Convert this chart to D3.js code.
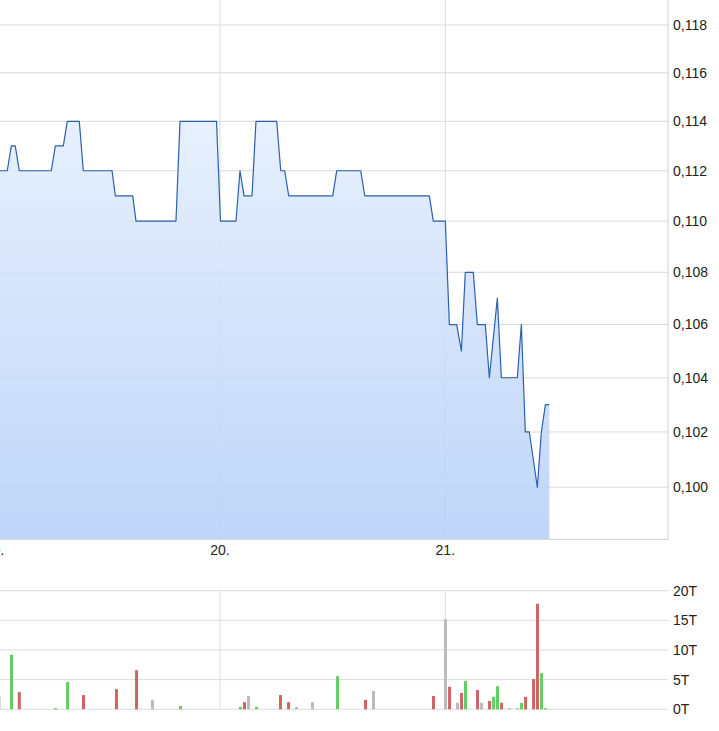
<!DOCTYPE html>
<html><head><meta charset="utf-8">
<script src="https://cdn.jsdelivr.net/npm/d3@7"></script>
<style>html,body{margin:0;padding:0;background:#fff;overflow:hidden}</style>
</head><body>
<svg id="c" width="719" height="731"></svg>
<script>
// ---- data (time in hours since day 19, 00:00) ----
const dayTicks = [0, 24, 48];
const dayLabels = ["19.", "20.", "21."];
const priceTicks = [0.100, 0.102, 0.104, 0.106, 0.108, 0.110, 0.112, 0.114, 0.116, 0.118];
const volTicks = [0, 5, 10, 15, 20];

const priceHours = [0, 1.34, 1.77, 2.19, 2.62, 6.03, 6.46, 7.31, 7.73, 9.01, 9.44, 12.50, 12.85, 14.70, 15.05,
  19.31, 19.74, 23.63, 24.05, 25.70, 26.13, 26.56, 27.41, 27.83, 30.04, 30.47, 30.89, 31.32, 36.01, 36.43,
  38.99, 39.42, 46.30, 46.72, 48.00, 48.43, 49.21, 49.71, 50.13, 50.98, 51.41, 52.26, 52.69, 53.54, 53.97,
  55.67, 56.10, 56.52, 56.95, 57.80, 58.23, 58.66, 59.08];
const priceValues = [0.112, 0.112, 0.113, 0.113, 0.112, 0.112, 0.113, 0.113, 0.114, 0.114, 0.112, 0.112, 0.111, 0.111, 0.110,
  0.110, 0.114, 0.114, 0.110, 0.110, 0.112, 0.111, 0.111, 0.114, 0.114, 0.112, 0.112, 0.111, 0.111, 0.112,
  0.112, 0.111, 0.111, 0.110, 0.110, 0.106, 0.106, 0.105, 0.108, 0.108, 0.106, 0.106, 0.104, 0.107, 0.104,
  0.104, 0.106, 0.102, 0.102, 0.100, 0.102, 0.103, 0.103];

const volHours = [0.46, 1.79, 2.62, 6.48, 7.76, 9.46, 12.97, 15.11, 16.81, 19.79,
  26.18, 26.61, 27.04, 27.89, 30.44, 31.30, 32.15, 33.85, 36.52, 39.50, 40.35,
  46.74, 48.02, 48.45, 49.30, 49.73, 50.15, 51.43, 51.86, 52.71, 53.14, 53.56, 53.99,
  54.84, 55.69, 56.12, 56.55, 57.40, 57.82, 58.25, 58.68, 59.10];
const volValues = [2.25, 9.2, 2.9, 0.2, 4.6, 2.4, 3.4, 6.6, 1.6, 0.55,
  0.4, 1.2, 2.25, 0.4, 2.4, 1.2, 0.4, 1.2, 5.6, 1.6, 3.1,
  2.25, 15.2, 3.8, 1.1, 2.75, 4.8, 3.25, 1.1, 1.4, 2.1, 3.9, 1.1,
  0.2, 0.2, 1.1, 2.1, 5.1, 17.8, 6.1, 0.2, 0.05];
const volDir = ["n", "u", "d", "u", "u", "d", "d", "d", "n", "u",
  "u", "d", "n", "u", "d", "d", "n", "n", "u", "d", "n",
  "d", "n", "d", "n", "d", "u", "d", "n", "d", "u", "u", "d",
  "n", "n", "u", "d", "d", "d", "u", "u", "n"];

// ---- layout ----
const plotL = 0, plotR = 668;
const mainTop = 0, mainBot = 539.3;
const volTop = 590.7, volBot = 709.3;
const gridColor = "#dcdcdc";
const colors = {u: "#66cc66", d: "#cc6666", n: "#bbbbbb"};
const font = "'Liberation Sans', Arial, sans-serif";

const svg = d3.select("#c");
const x = d3.scaleLinear().domain([0.565, 71.72]).range([plotL, plotR]);
const y = d3.scaleLog().domain([0.098155, 0.11906]).range([mainBot, mainTop]);
const yv = d3.scaleLinear().domain([0, 20]).range([volBot, volTop]);

const defs = svg.append("defs");
const grad = defs.append("linearGradient").attr("id", "ag")
  .attr("gradientUnits", "userSpaceOnUse").attr("x1", 0).attr("y1", mainTop).attr("x2", 0).attr("y2", mainBot);
grad.append("stop").attr("offset", "0%").attr("stop-color", "#f0f6fe");
grad.append("stop").attr("offset", "100%").attr("stop-color", "#b7d0f8");
defs.append("clipPath").attr("id", "mclip").append("rect")
  .attr("x", plotL).attr("y", mainTop).attr("width", plotR - plotL).attr("height", mainBot - mainTop);

// main gridlines
const gm = svg.append("g");
gm.selectAll(".hg").data(priceTicks).join("line")
  .attr("x1", plotL).attr("x2", plotR).attr("y1", d => y(d)).attr("y2", d => y(d))
  .attr("stroke", gridColor).attr("stroke-width", 1);
gm.selectAll(".vg").data(dayTicks.filter(d => x(d) >= plotL)).join("line")
  .attr("x1", d => x(d)).attr("x2", d => x(d)).attr("y1", mainTop).attr("y2", mainBot)
  .attr("stroke", gridColor).attr("stroke-width", 1);

const pts = priceHours.map((h, i) => [h, priceValues[i]]);
const cg = svg.append("g").attr("clip-path", "url(#mclip)");
cg.append("path").datum(pts)
  .attr("d", d3.area().x(d => x(d[0])).y0(mainBot).y1(d => y(d[1])))
  .attr("fill", "url(#ag)").attr("fill-opacity", 0.88);
cg.append("path").datum(pts)
  .attr("d", d3.line().x(d => x(d[0])).y(d => y(d[1])))
  .attr("fill", "none").attr("stroke", "#2c5fae").attr("stroke-width", 1.2).attr("stroke-linejoin", "round");

// frame: bottom + right
svg.append("line").attr("x1", plotL).attr("x2", plotR).attr("y1", mainBot).attr("y2", mainBot)
  .attr("stroke", "#d0d0d0");
svg.append("line").attr("x1", plotR).attr("x2", plotR).attr("y1", mainTop).attr("y2", mainBot)
  .attr("stroke", "#d0d0d0");

// right axis labels
svg.append("g").selectAll("text").data(priceTicks).join("text")
  .attr("x", 673).attr("y", d => y(d)).attr("dy", "0.35em")
  .attr("font-family", font).attr("font-size", 14).attr("fill", "#222")
  .text(d => d3.format(".3f")(d).replace(".", ","));

// x labels
svg.append("g").selectAll("text").data(dayTicks).join("text")
  .attr("x", d => x(d)).attr("y", 555).attr("text-anchor", "middle")
  .attr("font-family", font).attr("font-size", 14).attr("fill", "#222")
  .text((d, i) => dayLabels[i]);

// volume panel
const gv = svg.append("g");
gv.selectAll(".hg").data(volTicks).join("line")
  .attr("x1", plotL).attr("x2", plotR).attr("y1", d => yv(d)).attr("y2", d => yv(d))
  .attr("stroke", gridColor);
gv.selectAll(".vg").data(dayTicks.filter(d => x(d) >= plotL)).join("line")
  .attr("x1", d => x(d)).attr("x2", d => x(d)).attr("y1", volTop).attr("y2", volBot)
  .attr("stroke", gridColor);
gv.selectAll("rect").data(volHours.map((h, i) => ({h, v: volValues[i], c: volDir[i]}))).join("rect")
  .attr("x", d => x(d.h) - 1.5).attr("width", 3)
  .attr("y", d => yv(d.v)).attr("height", d => yv(0) - yv(d.v))
  .attr("fill", d => colors[d.c]);
gv.selectAll("text").data(volTicks).join("text")
  .attr("x", 673).attr("y", d => yv(d)).attr("dy", "0.35em")
  .attr("font-family", font).attr("font-size", 14).attr("fill", "#222")
  .text(d => d + "T");
</script>
</body></html>
